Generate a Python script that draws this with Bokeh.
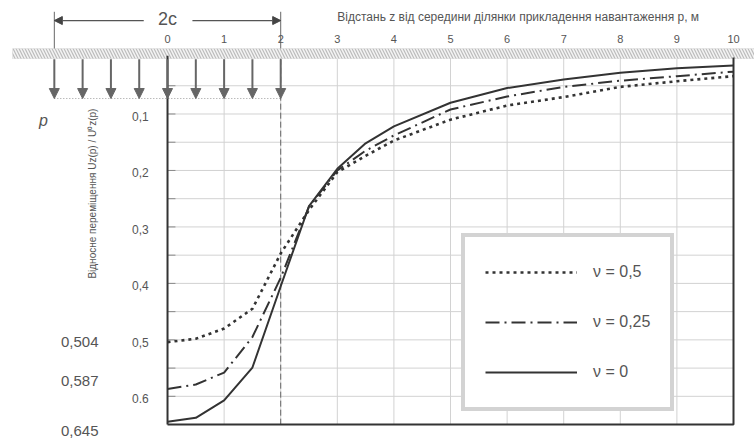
from bokeh.plotting import figure
from bokeh.models import (Range1d, ColumnDataSource, Arrow, NormalHead, Legend, LegendItem)
from bokeh.core.properties import value
from bokeh.embed import file_html
from bokeh.resources import INLINE
import math

# ---------------- data ----------------
z = [0, 0.5, 1, 1.5, 2, 2.5, 3, 3.5, 4, 5, 6, 7, 8, 9, 10]
u_nu0 = [0.645, 0.638, 0.607, 0.549, 0.405, 0.263, 0.197, 0.152, 0.122, 0.080, 0.054, 0.039, 0.027, 0.019, 0.014]
u_nu025 = [0.587, 0.579, 0.558, 0.495, 0.390, 0.264, 0.200, 0.165, 0.138, 0.092, 0.069, 0.052, 0.041, 0.033, 0.025]
u_nu05 = [0.504, 0.498, 0.480, 0.445, 0.347, 0.270, 0.203, 0.174, 0.147, 0.110, 0.085, 0.070, 0.052, 0.042, 0.033]

x_ticks = [0, 1, 2, 3, 4, 5, 6, 7, 8, 9, 10]
x_tick_labels = ["0", "1", "2", "3", "4", "5", "6", "7", "8", "9", "10"]
y_grid = [0.05, 0.10, 0.15, 0.20, 0.25, 0.30, 0.35, 0.40, 0.45, 0.50, 0.55, 0.60]
y_ticks = [0.1, 0.2, 0.3, 0.4, 0.5, 0.6]
y_tick_labels = ["0,1", "0,2", "0,3", "0,4", "0,5", "0.6"]
start_vals = [0.504, 0.587, 0.645]
start_labels = ["0,504", "0,587", "0,645"]
start_label_shift = [0.0, -0.014, 0.016]
c = 2.0                       # half-width of the loaded strip
load_x = [-2, -1.5, -1, -0.5, 0, 0.5, 1, 1.5, 2]
legend_labels = ["\u03bd = 0,5", "\u03bd = 0,25", "\u03bd = 0"]

XMIN, XMAX = 0, 10
YMAX = 0.65

FONT = "Liberation Sans Narrow, Liberation Sans, Arial, sans-serif"
TXT = "#555555"
LINE = "#333333"
GRID = "#d2d2d2"

p = figure(width=754, height=441, output_backend="svg", toolbar_location=None,
           x_range=Range1d(-2.951, 10.371), y_range=Range1d(0.680, -0.101),
           x_axis_location=None, y_axis_location=None, min_border=0)
p.outline_line_color = None
p.grid.visible = False

# ---- grid ----
p.segment(x0=x_ticks[1:-1], y0=[0] * (len(x_ticks) - 2), x1=x_ticks[1:-1], y1=[YMAX] * (len(x_ticks) - 2),
          line_color=GRID, line_width=1)
p.segment(x0=[XMIN] * len(y_grid), y0=y_grid, x1=[XMAX] * len(y_grid), y1=y_grid,
          line_color=GRID, line_width=1)
# small ticks on the left axis
p.segment(x0=[XMIN] * len(y_grid), y0=y_grid, x1=[XMIN + 0.14] * len(y_grid), y1=y_grid,
          line_color="#8a8a8a", line_width=1)

# ---- ground band ----
p.quad(left=[-2.74], right=[10.5], top=[-0.016], bottom=[0.002],
       fill_color="#bcbcbc", line_color=None,
       hatch_pattern="\\", hatch_color="#f4f4f4", hatch_scale=6, hatch_weight=1.5)

# ---- load arrows ----
arr_src = ColumnDataSource(dict(x0=load_x, y0=[0.003] * len(load_x), x1=load_x, y1=[0.0726] * len(load_x)))
p.add_layout(Arrow(end=NormalHead(size=10, fill_color="#666666", line_color="#666666"),
                   x_start="x0", y_start="y0", x_end="x1", y_end="y1", source=arr_src,
                   line_color="#666666", line_width=2))
p.line(x=[-c, c], y=[0.0726, 0.0726], line_color="#9a9a9a", line_width=1, line_dash="1 2")

# ---- 2c dimension ----
p.segment(x0=[-c, c], y0=[-0.081, -0.081], x1=[-c, c], y1=[-0.016, -0.016], line_color="#666666", line_width=1)
dim_src = ColumnDataSource(dict(x0=[-0.42, 0.44], x1=[-c, c], y=[-0.0655, -0.0655]))
p.add_layout(Arrow(end=NormalHead(size=8, fill_color="#444444", line_color="#444444"),
                   x_start="x0", y_start="y", x_end="x1", y_end="y", source=dim_src,
                   line_color="#555555", line_width=1.2))
p.text(x=[0], y=[-0.068], text=["2c"], text_font=value(FONT), text_font_size="18px",
       text_color=TXT, text_align="center", text_baseline="middle")
# dashed edge of load
p.line(x=[c, c], y=[0.002, YMAX], line_color="#666666", line_width=1, line_dash="6 3")

# ---- frame ----
p.line(x=[XMIN, XMIN], y=[-0.003, YMAX], line_color=LINE, line_width=2)
p.line(x=[XMIN, XMAX, XMAX], y=[YMAX, YMAX, 0.0], line_color=LINE, line_width=2)

# ---- curves ----
r05 = p.line(z, u_nu05, line_color=LINE, line_width=2.6, line_dash="3 4")
r025 = p.line(z, u_nu025, line_color=LINE, line_width=2, line_dash="14 5 2 5")
r0 = p.line(z, u_nu0, line_color=LINE, line_width=2)

# ---- tick labels ----
p.text(x=x_ticks, y=[-0.032] * len(x_ticks), text=x_tick_labels, text_font=value(FONT),
       text_font_size="11px", text_color=TXT, text_align="center", text_baseline="middle")
p.text(x=[-0.48] * len(y_ticks), y=[v + 0.004 for v in y_ticks], text=y_tick_labels, text_font=value(FONT),
       text_font_size="12px", text_color=TXT, text_align="center", text_baseline="middle")
p.text(x=[-1.22] * len(start_vals), y=[v + s for v, s in zip(start_vals, start_label_shift)],
       text=start_labels, text_font=value(FONT), text_font_size="15px", text_color=TXT,
       text_align="right", text_baseline="middle")

# ---- titles ----
p.text(x=[3.0], y=[-0.071], text=["Відстань z від середини ділянки прикладення навантаження p, м"],
       text_font=value(FONT), text_font_size="12px", text_color=TXT, text_align="left",
       text_baseline="middle")
p.text(x=[-1.33], y=[0.241], text=["Відносне переміщення Uz(p) / U\u2070z(p)"], angle=math.pi / 2,
       text_font=value(FONT), text_font_size="10px", text_color=TXT, text_align="center",
       text_baseline="middle")
p.text(x=[-2.19], y=[0.112], text=["p"], text_font=value(FONT), text_font_size="16px",
       text_font_style="italic", text_color=TXT, text_align="center", text_baseline="middle")

# ---- legend ----
legend = Legend(items=[LegendItem(label=legend_labels[0], renderers=[r05]),
                       LegendItem(label=legend_labels[1], renderers=[r025]),
                       LegendItem(label=legend_labels[2], renderers=[r0])],
                location=(461, 30), padding=20, spacing=20, glyph_width=92, glyph_height=30,
                label_height=30, label_standoff=16, label_text_font=FONT, label_text_font_size="16px",
                label_text_color=TXT, border_line_color="#a8a8a8", border_line_width=4,
                background_fill_color="white", background_fill_alpha=1.0, margin=0)
p.add_layout(legend)

open("out.html", "w").write(file_html(p, INLINE))
